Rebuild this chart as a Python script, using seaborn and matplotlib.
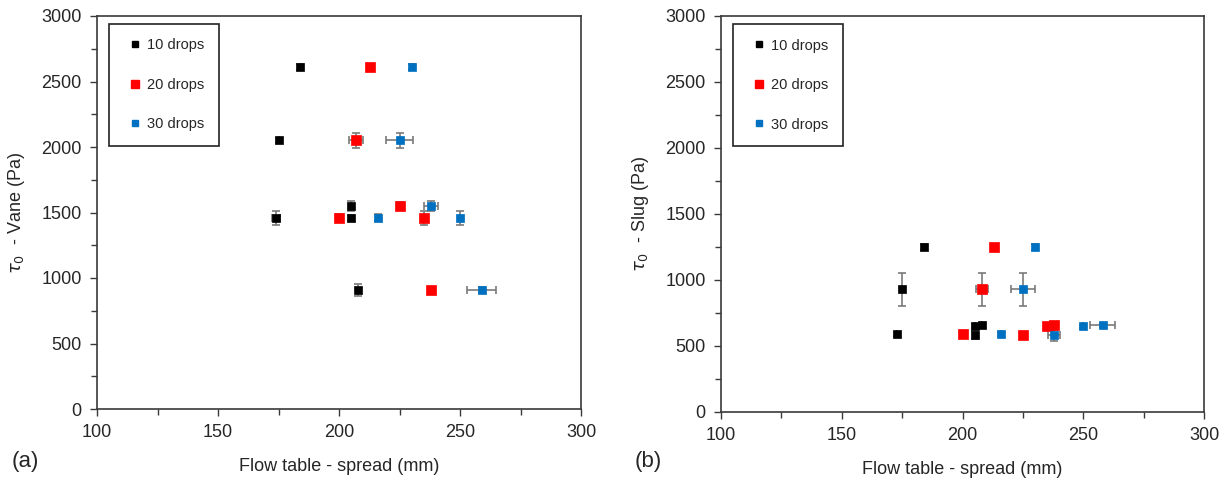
import numpy as np
import pandas as pd
import matplotlib
matplotlib.use("Agg")
import matplotlib.pyplot as plt
from matplotlib.ticker import MultipleLocator
from matplotlib.lines import Line2D
import seaborn as sns

# ---------------- data ----------------
series_names = ["10 drops", "20 drops", "30 drops"]

# Panel (a): yield stress from vane vs flow-table spread
vane_10_x = [184, 175, 174, 205, 205, 208]
vane_10_y = [2610, 2050, 1460, 1550, 1460, 910]
vane_10_xerr = [0, 0, 1.5, 0, 0, 0]
vane_10_yerr = [25, 20, 55, 40, 20, 45]

vane_20_x = [213, 207, 200, 225, 235, 238]
vane_20_y = [2610, 2050, 1460, 1550, 1460, 910]
vane_20_xerr = [0, 3, 0, 0, 0, 0]
vane_20_yerr = [20, 60, 25, 30, 55, 20]

vane_30_x = [230, 225, 216, 238, 250, 259]
vane_30_y = [2610, 2050, 1460, 1550, 1460, 910]
vane_30_xerr = [0, 5.5, 0, 3, 0, 6]
vane_30_yerr = [20, 60, 25, 40, 55, 20]

# Panel (b): yield stress from slug test vs flow-table spread
slug_10_x = [184, 175, 173, 205, 208, 205]
slug_10_y = [1250, 930, 590, 650, 660, 580]
slug_10_xerr = [0, 0, 0, 0, 0, 0]
slug_10_yerr = [20, 125, 15, 15, 15, 30]

slug_20_x = [213, 208, 200, 225, 235, 238]
slug_20_y = [1250, 930, 590, 580, 650, 660]
slug_20_xerr = [0, 2.5, 0, 0, 0, 0]
slug_20_yerr = [15, 125, 15, 20, 15, 15]

slug_30_x = [230, 225, 216, 238, 250, 258]
slug_30_y = [1250, 930, 590, 580, 650, 660]
slug_30_xerr = [0, 5, 0, 2.5, 0, 5]
slug_30_yerr = [25, 125, 15, 40, 10, 15]

colors = {"10 drops": "#000000", "20 drops": "#FF0000", "30 drops": "#0070C0"}
sizes = {"10 drops": 30, "20 drops": 48, "30 drops": 34}

x_ticks = [100, 150, 200, 250, 300]
y_ticks = [0, 500, 1000, 1500, 2000, 2500, 3000]

# ---------------- style ----------------
sns.set_theme(style="white")
plt.rcParams["font.family"] = ["Liberation Sans", "DejaVu Sans"]
plt.rcParams["mathtext.fontset"] = "dejavusans"
text_col = "#262626"
spine_col = "#3a3a3a"


def build_frame(xs, ys, xes, yes):
    frames = []
    for name, x, y, xe, ye in zip(series_names, xs, ys, xes, yes):
        frames.append(pd.DataFrame({"spread": x, "tau": y, "xerr": xe,
                                    "yerr": ye, "series": name}))
    return pd.concat(frames, ignore_index=True)


df_vane = build_frame([vane_10_x, vane_20_x, vane_30_x],
                      [vane_10_y, vane_20_y, vane_30_y],
                      [vane_10_xerr, vane_20_xerr, vane_30_xerr],
                      [vane_10_yerr, vane_20_yerr, vane_30_yerr])
df_slug = build_frame([slug_10_x, slug_20_x, slug_30_x],
                      [slug_10_y, slug_20_y, slug_30_y],
                      [slug_10_xerr, slug_20_xerr, slug_30_xerr],
                      [slug_10_yerr, slug_20_yerr, slug_30_yerr])

fig = plt.figure(figsize=(12.32, 4.8), dpi=100)
ax1 = fig.add_axes([97 / 1232, 1 - 409 / 480, 484 / 1232, 393 / 480])
ax2 = fig.add_axes([721 / 1232, 1 - 412 / 480, 483 / 1232, 396 / 480])


def draw(ax, df, ylabel):
    # error bars
    for name in series_names:
        sub = df[df["series"] == name]
        ax.errorbar(sub["spread"], sub["tau"], xerr=sub["xerr"], yerr=sub["yerr"],
                    fmt="none", ecolor="#7a7a7a", elinewidth=1.2, capsize=3,
                    capthick=1.2, zorder=2)
    for name in series_names:
        sub = df[df["series"] == name]
        sns.scatterplot(data=sub, x="spread", y="tau", ax=ax, color=colors[name],
                        marker="s", s=sizes[name], edgecolor=colors[name],
                        linewidth=0.5, legend=False, zorder=3)
    ax.set_xlim(100, 300)
    ax.set_ylim(0, 3000)
    ax.set_xticks(x_ticks)
    ax.set_yticks(y_ticks)
    ax.xaxis.set_minor_locator(MultipleLocator(25))
    ax.yaxis.set_minor_locator(MultipleLocator(250))
    ax.tick_params(axis="both", which="major", direction="out", length=5, width=1,
                   color=spine_col, labelsize=13, labelcolor=text_col,
                   bottom=True, left=True, top=False, right=False)
    ax.tick_params(axis="both", which="minor", direction="out", length=4, width=1,
                   color=spine_col, bottom=True, left=True, top=False, right=False)
    ax.tick_params(axis="x", which="major", pad=6)
    ax.tick_params(axis="y", which="major", pad=6)
    for sp in ax.spines.values():
        sp.set_visible(True)
        sp.set_color(spine_col)
        sp.set_linewidth(1.2)
    ax.set_xlabel("Flow table - spread (mm)", fontsize=13, color=text_col, labelpad=12)
    ax.set_ylabel(ylabel, fontsize=13, color=text_col, labelpad=10)
    ax.grid(False)

    handles = [Line2D([0], [0], marker="s", linestyle="none", color=colors[n],
                      markersize=(4.5 if n != "20 drops" else 6), label=n)
               for n in series_names]
    leg = ax.legend(handles=handles, loc="upper left", bbox_to_anchor=(0.025, 0.98),
                    borderaxespad=0, frameon=True, fancybox=False, framealpha=1,
                    edgecolor="#222222", fontsize=10.5, labelspacing=1.75,
                    handlelength=1.5, handletextpad=0.1, borderpad=1.0)
    leg.get_frame().set_linewidth(1.2)
    for t in leg.get_texts():
        t.set_color(text_col)


draw(ax1, df_vane, r"$\tau_0$  - Vane (Pa)")
draw(ax2, df_slug, r"$\tau_0$  - Slug (Pa)")

fig.text(12 / 1232, 1 - 461 / 480, "(a)", fontsize=16, color=text_col, va="center", ha="left")
fig.text(635 / 1232, 1 - 462 / 480, "(b)", fontsize=16, color=text_col, va="center", ha="left")

fig.savefig("out.png", dpi=100, facecolor="white")
